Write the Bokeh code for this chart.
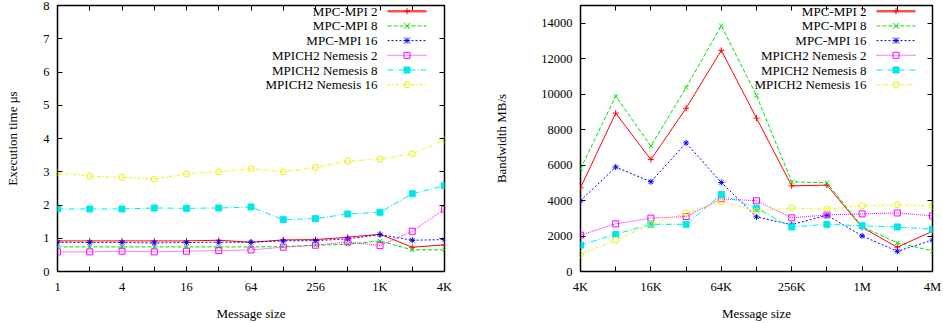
from bokeh.plotting import figure
from bokeh.layouts import row
from bokeh.models import (FixedTicker, LogAxis, LinearAxis, Label, Range1d,
                          Arrow, BoxAnnotation)
from bokeh.embed import file_html
from bokeh.resources import INLINE

# ---------------- data ----------------
series_names = ["MPC-MPI 2", "MPC-MPI 8", "MPC-MPI 16",
                "MPICH2 Nemesis 2", "MPICH2 Nemesis 8", "MPICH2 Nemesis 16"]

lat_sizes = [1, 2, 4, 8, 16, 32, 64, 128, 256, 512, 1024, 2048, 4096]
lat_mpc2 = [0.92, 0.92, 0.92, 0.92, 0.92, 0.94, 0.88, 0.95, 0.96, 1.03, 1.12, 0.73, 0.80]
lat_mpc8 = [0.74, 0.74, 0.74, 0.74, 0.74, 0.74, 0.74, 0.75, 0.79, 0.82, 0.92, 0.65, 0.65]
lat_mpc16 = [0.88, 0.87, 0.87, 0.86, 0.87, 0.88, 0.88, 0.92, 0.93, 0.98, 1.11, 0.94, 0.96]
lat_nem2 = [0.59, 0.59, 0.61, 0.59, 0.61, 0.63, 0.65, 0.73, 0.79, 0.89, 0.78, 1.21, 1.87]
lat_nem8 = [1.88, 1.88, 1.88, 1.91, 1.90, 1.91, 1.94, 1.56, 1.59, 1.73, 1.78, 2.34, 2.58]
lat_nem16 = [2.97, 2.87, 2.83, 2.78, 2.94, 3.00, 3.09, 3.00, 3.13, 3.32, 3.38, 3.54, 3.96]

bw_sizes = [4096, 8192, 16384, 32768, 65536, 131072, 262144, 524288,
            1048576, 2097152, 4194304]
bw_mpc2 = [4720, 8930, 6310, 9210, 12470, 8650, 4830, 4870, 2490, 1370, 2270]
bw_mpc8 = [5790, 9890, 7070, 10370, 13860, 9930, 5060, 5000, 2530, 1620, 1160]
bw_mpc16 = [3990, 5890, 5060, 7250, 5020, 3080, 2640, 3170, 2010, 1140, 1770]
bw_nem2 = [2050, 2690, 3010, 3100, 4100, 3990, 3030, 3190, 3250, 3300, 3140]
bw_nem8 = [1490, 2100, 2660, 2660, 4340, 3560, 2510, 2660, 2580, 2510, 2380]
bw_nem16 = [960, 1770, 2680, 3300, 3930, 3410, 3580, 3510, 3710, 3760, 3690]

lat_ticks = [1, 4, 16, 64, 256, 1024, 4096]
lat_tick_labels = ["1", "4", "16", "64", "256", "1K", "4K"]
bw_ticks = [4096, 16384, 65536, 262144, 1048576, 4194304]
bw_tick_labels = ["4K", "16K", "64K", "256K", "1M", "4M"]

# ---------------- styles ----------------
colors = ["#ff0000", "#00e000", "#0000ff", "#ff00ff", "#00e8e8", "#f0f000"]
dashes = ["solid", "4 2", "2 2", "1 1", "6 2 1 2", "3 2 1 2"]
markers = ["cross", "x", "asterisk", "square", "square", "circle"]
filled = [True, True, True, False, True, False]

FONT = "Liberation Serif"
TICK_FS = "12.5px"
LAB_FS = "13px"
MS = 6  # marker size


def style_axis(ax):
    ax.major_tick_in = 5
    ax.major_tick_out = 0
    ax.minor_tick_in = 5
    ax.minor_tick_out = 0
    ax.axis_line_color = None
    ax.major_tick_line_color = "black"
    ax.minor_tick_line_color = "black"
    ax.major_label_text_font = FONT
    ax.major_label_text_font_size = TICK_FS
    ax.major_label_text_color = "black"
    ax.axis_label_text_font = FONT
    ax.axis_label_text_font_size = LAB_FS
    ax.axis_label_text_font_style = "normal"
    ax.axis_label_text_color = "black"


def seg(p, x0, y0, x1, y1, color, width=1, dash="solid"):
    p.add_layout(Arrow(x_start=x0, y_start=y0, x_end=x1, y_end=y1,
                       start_units="screen", end_units="screen",
                       start=None, end=None, line_color=color,
                       line_width=width, line_dash=dash))


def legend_marker(p, kind, is_filled, cx, cy, color):
    h = MS / 2
    if kind in ("cross", "asterisk"):
        seg(p, cx - h, cy, cx + h, cy, color)
        seg(p, cx, cy - h, cx, cy + h, color)
    if kind in ("x", "asterisk"):
        seg(p, cx - h, cy - h, cx + h, cy + h, color)
        seg(p, cx - h, cy + h, cx + h, cy - h, color)
    if kind in ("square", "circle"):
        p.add_layout(BoxAnnotation(
            left=cx - h, right=cx + h, bottom=cy - h, top=cy + h,
            left_units="screen", right_units="screen",
            bottom_units="screen", top_units="screen",
            line_color=color, line_width=1, line_alpha=1,
            fill_color=color if is_filled else None,
            fill_alpha=1 if is_filled else 0,
            border_radius=int(h) if kind == "circle" else 0))


def make_plot(width, left, right, xs, ys_list, x_range, y_range,
              label_ticks, label_texts, y_ticks, ylabel, leg_x0, text_x):
    p = figure(width=width, height=323, x_axis_type="log",
               x_range=Range1d(*x_range), y_range=Range1d(*y_range),
               output_backend="svg", toolbar_location=None,
               min_border_left=left, min_border_right=right,
               min_border_top=5, min_border_bottom=47)
    p.xgrid.grid_line_color = None
    p.ygrid.grid_line_color = None
    p.outline_line_color = "black"
    p.outline_line_width = 1.5
    p.background_fill_color = "white"
    p.border_fill_color = "white"

    xa = p.xaxis[0]
    xa.ticker = FixedTicker(ticks=label_ticks, minor_ticks=xs)
    xa.major_label_overrides = dict(zip(label_ticks, label_texts))
    xa.major_label_standoff = 8
    xa.axis_label = "Message size"
    xa.axis_label_standoff = 9
    style_axis(xa)

    ya = p.yaxis[0]
    ya.ticker = FixedTicker(ticks=y_ticks, minor_ticks=[])
    ya.major_label_standoff = 8
    ya.axis_label = ylabel
    style_axis(ya)

    top = LogAxis(ticker=FixedTicker(ticks=[], minor_ticks=xs))
    style_axis(top)
    p.add_layout(top, "above")
    rt = LinearAxis(ticker=FixedTicker(ticks=[], minor_ticks=y_ticks))
    style_axis(rt)
    p.add_layout(rt, "right")

    for i, ys in enumerate(ys_list):
        p.line(xs, ys, line_color=colors[i], line_width=1, line_dash=dashes[i])
        p.scatter(xs, ys, marker=markers[i], size=MS,
                  line_color=colors[i], line_width=1,
                  fill_color=colors[i] if filled[i] else None)

    # gnuplot-style key: text right-aligned, then sample line + marker
    for i, name in enumerate(series_names):
        cy = 260.3 - 14.7 * i
        p.add_layout(Label(x=text_x, y=cy, x_units="screen", y_units="screen",
                           text=name, text_align="right",
                           text_baseline="middle", text_font=FONT,
                           text_font_size=LAB_FS, text_color="black"))
        if i == 0:
            seg(p, leg_x0, cy, leg_x0 + 39, cy, "#ff5050", width=2.5)
        else:
            seg(p, leg_x0, cy, leg_x0 + 39, cy, colors[i], dash=dashes[i])
        legend_marker(p, markers[i], filled[i], leg_x0 + 19.5, cy, colors[i])
    return p


p1 = make_plot(470, 57, 26, lat_sizes,
               [lat_mpc2, lat_mpc8, lat_mpc16, lat_nem2, lat_nem8, lat_nem16],
               (1, 4096), (0, 8), lat_ticks, lat_tick_labels,
               list(range(0, 9)), "Execution time \u03bcs", 330, 320)
p1.yaxis[0].axis_label_standoff = 20

p2 = make_plot(473, 110, 11, bw_sizes,
               [bw_mpc2, bw_mpc8, bw_mpc16, bw_nem2, bw_nem8, bw_nem16],
               (4096, 4194304), (0, 15000), bw_ticks, bw_tick_labels,
               list(range(0, 15000, 2000)), "Bandwidth MB/s", 296, 286)
p2.yaxis[0].axis_label_standoff = 29

layout = row(p1, p2)
open("out.html", "w").write(file_html(layout, INLINE))
